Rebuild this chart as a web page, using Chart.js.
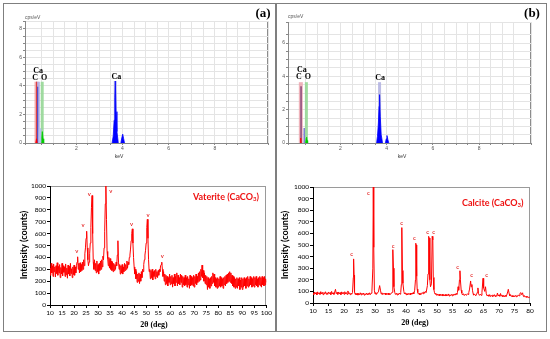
<!DOCTYPE html>
<html><head><meta charset="utf-8">
<script src="https://cdn.jsdelivr.net/npm/chart.js@4/dist/chart.umd.min.js"></script>
<style>
body{margin:0;background:#fff;}
#fig{position:relative;width:550px;height:339px;overflow:hidden;background:#fff;}
.wrap{position:absolute;}
.panel{position:absolute;font-family:"Liberation Serif",serif;font-weight:bold;font-size:13px;color:#000;transform:translate(-50%,-50%);}
</style></head><body>
<div id="fig">
  <div style="position:absolute;left:3px;top:3px;width:544px;height:329px;border:1.5px solid #7f7f7f;box-sizing:border-box"></div>
  <div style="position:absolute;left:275px;top:3px;width:2px;height:329px;background:#7f7f7f"></div>
  <div class="wrap" style="left:5px;top:5px"><canvas id="edsA" width="268" height="158"></canvas></div>
  <div class="wrap" style="left:279px;top:5px"><canvas id="edsB" width="266" height="158"></canvas></div>
  <div class="wrap" style="left:5px;top:172px"><canvas id="xrdA" width="268" height="158"></canvas></div>
  <div class="wrap" style="left:279px;top:172px"><canvas id="xrdB" width="266" height="158"></canvas></div>
  <div class="panel" style="left:263px;top:13px">(a)</div>
  <div class="panel" style="left:532px;top:13px">(b)</div>
</div>
<script>
// ---------------- DATA ----------------
// EDS (a): filled peaks [keV, cps/eV]
const edsA_CaKa = [[3.55,0],[3.6,0.5],[3.64,1.6],[3.67,3.2],[3.69,4.35],[3.72,2.2],[3.76,0.8],[3.82,0]];
const edsA_CaKb = [[3.93,0],[3.97,0.35],[4.01,0.62],[4.05,0.3],[4.09,0]];
const edsA_C    = [[0.24,0],[0.28,0.3],[0.31,0]];
const edsA_O    = [[0.48,0],[0.51,0.45],[0.53,0.8],[0.56,0.3],[0.59,0]];
const edsA_CaL  = [[0.38,0],[0.4,1.1],[0.44,1.0],[0.46,0]];
// EDS (a): element marker lines [keV, height]
const edsA_markC  = [0.28, 4.3];
const edsA_markCa = [0.34, 4.3];
const edsA_markO  = [0.525, 4.3];
const edsA_markCaK= [3.69, 4.35];
const edsA_lineC  = [0.28, 4.3];
const edsA_lineCa = [0.33, 3.95];
// EDS (a) peak labels [keV, cps/eV, text]
const edsA_labels = [[0.35,5.05,'Ca'],[0.22,4.56,'C'],[0.61,4.56,'O'],[3.74,4.63,'Ca']];

// EDS (b)
const edsB_CaKa = [[3.56,0],[3.6,0.4],[3.64,1.2],[3.67,2.2],[3.69,2.9],[3.72,1.6],[3.76,0.5],[3.82,0]];
const edsB_CaKb = [[3.94,0],[3.98,0.25],[4.01,0.45],[4.05,0.2],[4.09,0]];
const edsB_C    = [[0.25,0],[0.28,0.3],[0.3,0]];
const edsB_O    = [[0.49,0],[0.52,0.3],[0.535,0.35],[0.56,0.15],[0.58,0]];
const edsB_CaL  = [[0.42,0],[0.43,0.9],[0.44,0]];
const edsB_markC  = [0.285, 3.65];
const edsB_markO  = [0.525, 3.65];
const edsB_markCaK= [3.69, 3.65];
const edsB_lineC  = [0.295, 3.4];
const edsB_labels = [[0.33,4.38,'Ca'],[0.2,3.96,'C'],[0.59,3.96,'O'],[3.71,3.9,'Ca']];

// XRD (a) Vaterite [2θ, counts]
const vaterite = [
[10,310],[10.25,250],[10.5,350],[10.75,270],[11,330],[11.25,240],[11.5,345],[11.75,280],[12,320],[12.25,235],[12.5,330],[12.75,265],
[13,355],[13.25,250],[13.5,325],[13.75,270],[14,340],[14.25,230],[14.5,315],[14.75,260],[15,350],[15.25,245],[15.5,330],[15.75,275],
[16,320],[16.25,240],[16.5,345],[16.75,255],[17,310],[17.25,225],[17.5,335],[17.75,260],[18,325],[18.25,245],[18.5,350],[18.75,265],
[19,305],[19.25,230],[19.5,320],[19.75,255],[20,335],[20.25,250],[20.5,320],[20.75,270],[21,330],[21.25,360],[21.5,405],[21.75,300],
[22,350],[22.25,270],[22.5,355],[22.75,280],[23,340],[23.25,290],[23.5,360],[23.75,300],[24,380],[24.25,330],[24.5,430],[24.75,480],
[25,560],[25.25,620],[25.5,480],[25.75,380],[26,330],[26.25,360],[26.5,430],[26.75,520],[27,650],[27.25,820],[27.5,920],[27.75,600],
[28,360],[28.25,300],[28.5,380],[28.75,290],[29,350],[29.25,270],[29.5,370],[29.75,280],[30,340],[30.25,260],[30.5,350],[30.75,290],
[31,370],[31.25,300],[31.5,380],[31.75,320],[32,410],[32.25,380],[32.5,480],[32.75,620],[33,850],[33.25,1000],[33.5,720],[33.75,450],
[34,390],[34.25,330],[34.5,400],[34.75,310],[35,390],[35.25,300],[35.5,370],[35.75,290],[36,360],[36.25,280],[36.5,350],[36.75,290],
[37,340],[37.25,300],[37.5,360],[37.75,330],[38,420],[38.25,540],[38.5,360],[38.75,300],[39,340],[39.25,260],[39.5,330],[39.75,270],
[40,340],[40.25,260],[40.5,320],[40.75,280],[41,350],[41.25,290],[41.5,340],[41.75,300],[42,370],[42.25,310],[42.5,360],[42.75,340],
[43,400],[43.25,420],[43.5,470],[43.75,540],[44,600],[44.25,640],[44.5,520],[44.75,400],[45,320],[45.25,260],[45.5,300],[45.75,220],
[46,280],[46.25,190],[46.5,260],[46.75,200],[47,270],[47.25,180],[47.5,260],[47.75,200],[48,280],[48.25,230],[48.5,300],[48.75,280],
[49,340],[49.25,380],[49.5,420],[49.75,460],[50,520],[50.25,650],[50.5,720],[50.75,560],[51,380],[51.25,280],[51.5,300],[51.75,220],
[52,290],[52.25,230],[52.5,300],[52.75,210],[53,280],[53.25,240],[53.5,290],[53.75,220],[54,300],[54.25,240],[54.5,280],[54.75,230],
[55,290],[55.25,250],[55.5,300],[55.75,280],[56,330],[56.25,340],[56.5,360],[56.75,300],[57,240],[57.25,280],[57.5,200],[57.75,260],
[58,170],[58.25,250],[58.5,180],[58.75,240],[59,160],[59.25,230],[59.5,190],[59.75,260],[60,170],[60.25,240],[60.5,180],[60.75,250],
[61,150],[61.25,230],[61.5,180],[61.75,260],[62,160],[62.25,240],[62.5,190],[62.75,270],[63,160],[63.25,250],[63.5,180],[63.75,230],
[64,170],[64.25,260],[64.5,190],[64.75,250],[65,150],[65.25,240],[65.5,170],[65.75,230],[66,160],[66.25,250],[66.5,170],[66.75,230],
[67,150],[67.25,240],[67.5,170],[67.75,220],[68,140],[68.25,250],[68.5,160],[68.75,240],[69,170],[69.25,230],[69.5,160],[69.75,250],
[70,150],[70.25,240],[70.5,180],[70.75,260],[71,170],[71.25,240],[71.5,190],[71.75,270],[72,200],[72.25,280],[72.5,210],[72.75,300],
[73,240],[73.25,335],[73.5,230],[73.75,290],[74,200],[74.25,270],[74.5,180],[74.75,250],[75,170],[75.25,240],[75.5,130],[75.75,230],
[76,150],[76.25,220],[76.5,140],[76.75,230],[77,160],[77.25,240],[77.5,180],[77.75,270],[78,190],[78.25,260],[78.5,160],[78.75,230],
[79,150],[79.25,220],[79.5,140],[79.75,230],[80,150],[80.25,220],[80.5,160],[80.75,240],[81,150],[81.25,230],[81.5,160],[81.75,220],
[82,140],[82.25,230],[82.5,170],[82.75,240],[83,160],[83.25,250],[83.5,180],[83.75,260],[84,190],[84.25,270],[84.5,200],[84.75,280],
[85,190],[85.25,270],[85.5,180],[85.75,250],[86,160],[86.25,240],[86.5,150],[86.75,230],[87,140],[87.25,220],[87.5,150],[87.75,230],
[88,140],[88.25,220],[88.5,160],[88.75,230],[89,130],[89.25,210],[89.5,150],[89.75,230],[90,130],[90.25,220],[90.5,150],[90.75,230],
[91,160],[91.25,220],[91.5,140],[91.75,230],[92,160],[92.25,240],[92.5,150],[92.75,220],[93,160],[93.25,240],[93.5,170],[93.75,230],
[94,150],[94.25,220],[94.5,160],[94.75,240],[95,150],[95.25,230],[95.5,170],[95.75,240],[96,160],[96.25,220],[96.5,150],[96.75,230],
[97,170],[97.25,240],[97.5,160],[97.75,230],[98,150],[98.25,240],[98.5,170],[98.75,230],[99,160],[99.25,240],[99.5,170],[99.75,220],
[100,190]];
const vateriteMarks = [[21.1,454],[23.8,672],[26.3,933],[35.3,960],[43.9,681],[50.8,756],[56.7,414]];

// XRD (b) Calcite [2θ, counts]
const calcite = [
[10,85],[10.25,72],[10.5,95],[10.75,78],[11,90],[11.25,70],[11.5,96],[11.75,80],[12,88],[12.25,74],[12.5,98],[12.75,78],
[13,92],[13.25,72],[13.5,90],[13.75,80],[14,97],[14.25,76],[14.5,88],[14.75,74],[15,95],[15.25,80],[15.5,90],[15.75,72],
[16,100],[16.25,78],[16.5,88],[16.75,74],[17,94],[17.25,118],[17.5,80],[17.75,92],[18,74],[18.25,95],[18.5,78],[18.75,90],
[19,72],[19.25,96],[19.5,80],[19.75,92],[20,75],[20.25,97],[20.5,78],[20.75,90],[21,74],[21.25,104],[21.5,80],[21.75,88],
[22,72],[22.25,85],[22.5,76],[22.75,90],[23.0,220],[23.1,380],[23.25,240],[23.4,95],[23.6,74],[23.8,86],[24,70],[24.25,84],
[24.5,68],[24.75,82],[25,72],[25.25,88],[25.5,70],[25.75,84],[26,74],[26.25,86],[26.5,68],[26.75,80],[27,72],[27.25,86],
[27.5,70],[27.75,82],[28,74],[28.25,88],[28.5,72],[28.75,84],[29,96],[29.3,300],[29.45,1000],[29.6,480],[29.8,110],[30,78],
[30.25,90],[30.5,74],[30.75,86],[31.1,96],[31.5,150],[31.8,105],[32,78],[32.25,88],[32.5,72],[32.75,82],[33,76],[33.25,86],
[33.5,70],[33.75,82],[34,74],[34.25,86],[34.5,70],[34.75,80],[35,74],[35.25,86],[35.5,92],[35.7,210],[35.8,460],[35.95,300],
[36.1,140],[36.4,88],[36.6,74],[36.9,84],[37.1,70],[37.4,82],[37.6,72],[37.9,86],[38.1,76],[38.3,90],[38.5,160],[38.6,320],
[38.7,650],[38.85,280],[39,170],[39.3,100],[39.5,78],[39.8,88],[40,72],[40.3,84],[40.5,70],[40.8,82],[41,72],[41.3,84],
[41.5,70],[41.8,86],[42,76],[42.3,90],[42.5,78],[42.8,110],[43.05,200],[43.15,515],[43.3,500],[43.45,230],[43.6,120],[43.8,90],
[44,76],[44.25,84],[44.5,70],[44.75,82],[45,76],[45.25,90],[45.5,80],[45.75,96],[46,84],[46.25,100],[46.5,90],[46.9,150],
[47.1,250],[47.3,575],[47.5,560],[47.7,200],[47.9,140],[48.2,165],[48.45,575],[48.65,545],[48.8,220],[49,115],[49.2,88],
[49.4,76],[49.6,84],[49.9,66],[50.15,78],[50.4,64],[50.65,76],[50.9,62],[51.15,74],[51.4,64],[51.65,76],[51.9,60],[52.15,72],
[52.4,62],[52.65,74],[52.9,60],[53.15,72],[53.4,64],[53.65,78],[53.9,60],[54.15,72],[54.4,64],[54.65,74],[54.9,62],[55.15,76],
[55.4,66],[55.65,78],[55.9,68],[56.15,82],[56.4,74],[56.6,90],[56.8,140],[57.0,110],[57.25,200],[57.4,278],[57.55,200],
[57.8,110],[58,86],[58.2,70],[58.5,80],[58.8,64],[59.1,76],[59.5,66],[59.8,80],[60,74],[60.25,90],[60.5,120],[60.85,190],
[61.0,140],[61.25,160],[61.45,110],[61.65,80],[61.8,68],[62.1,78],[62.5,62],[62.8,76],[63,92],[63.2,130],[63.4,80],[63.7,66],
[64,76],[64.25,66],[64.5,92],[64.85,213],[65.05,130],[65.4,100],[65.65,140],[65.9,80],[66.2,60],[66.5,70],[66.75,58],[67,72],
[67.25,56],[67.5,66],[67.75,56],[68,70],[68.25,58],[68.5,72],[68.75,56],[69,66],[69.25,58],[69.5,86],[69.75,60],[70,70],
[70.25,58],[70.5,82],[70.75,60],[71,66],[71.25,54],[71.5,64],[71.75,54],[72,66],[72.25,56],[72.5,68],[72.8,95],[73,118],
[73.3,78],[73.5,62],[73.75,70],[74,56],[74.25,64],[74.5,52],[74.75,62],[75,54],[75.25,66],[75.5,54],[75.75,64],[76,58],
[76.25,70],[76.5,62],[76.75,80],[77,90],[77.3,72],[77.6,88],[77.8,64],[78,56],[78.25,62],[78.5,50],[78.75,58],[79,48],
[79.25,56],[79.5,46],[79.75,52],[80,45]];
const calciteMarks = [[22.5,420],[27.9,946],[35.9,491],[38.6,687],[42.7,558],[47,609],[48.9,609],[56.7,308],[61.2,241],[66,241]];

// ---------------- DRAWING ----------------
const pts = a => a.map(p => ({x:p[0], y:p[1]}));
const seg = m => [{x:m[0],y:0},{x:m[0],y:m[1]}];

function drawParts(ctx, parts, x, y, align, font, subFont){
  let w = 0;
  parts.forEach(p => { ctx.font = p.sub ? subFont : font; w += ctx.measureText(p.t).width; });
  let cx = align === 'center' ? x - w/2 : (align === 'right' ? x - w : x);
  ctx.textAlign = 'left';
  parts.forEach(p => {
    ctx.font = p.sub ? subFont : font;
    ctx.fillText(p.t, cx, p.sub ? y + 2.5 : y);
    cx += ctx.measureText(p.t).width;
  });
}

const annotate = {
  id: 'annotate',
  beforeDraw(chart, args, opts){
    if (!opts.frame) return;
    const a = chart.chartArea, ctx = chart.ctx;
    ctx.save(); ctx.strokeStyle = opts.frame; ctx.lineWidth = 1;
    ctx.strokeRect(Math.round(a.left)+0.5, Math.round(a.top)+0.5, Math.round(a.width)-1, Math.round(a.height));
    ctx.restore();
  },
  afterDraw(chart, args, opts){
    const ctx = chart.ctx;
    ctx.save();
    (opts.items || []).forEach(it => {
      let x, y;
      if (it.dx !== undefined) { x = chart.scales.x.getPixelForValue(it.dx); y = chart.scales.y.getPixelForValue(it.dy); }
      else { x = it.px; y = it.py; }
      ctx.fillStyle = it.color || '#000';
      ctx.textBaseline = 'middle';
      if (it.parts) { drawParts(ctx, it.parts, x, y, it.align || 'left', it.font, it.subFont); }
      else if (it.rot) {
        ctx.font = it.font; ctx.textAlign = 'center';
        ctx.translate(x, y); ctx.rotate(it.rot); ctx.fillText(it.text, 0, 0); ctx.setTransform(1,0,0,1,0,0);
      } else { ctx.font = it.font; ctx.textAlign = it.align || 'center'; ctx.fillText(it.text, x, y); }
    });
    ctx.restore();
  }
};
Chart.register(annotate);

const RED = '#ff0000';
// Chart.js draws the first dataset on top, so fills come first and marker halos last.
const fillDs = (d, c) => ({data: pts(d), borderColor: c, backgroundColor: c, borderWidth: 0.8, pointRadius: 0, fill: 'origin', tension: 0});
const lineDs = (m, c, w) => ({data: seg(m), borderColor: c, borderWidth: w, pointRadius: 0, fill: false});

function edsChart(id, datasets, xmin, xmax, ymax, yW, padTop, padRight, items){
  return new Chart(document.getElementById(id), {
    type: 'line',
    data: {datasets},
    options: {
      responsive: false, animation: false, devicePixelRatio: 1,
      layout: {padding: {top: padTop, right: padRight, left: 0, bottom: 0}},
      plugins: {legend: {display: false}, tooltip: {enabled: false}, annotate: {frame: '#8c8c8c', items}},
      scales: {
        x: {type: 'linear', min: xmin, max: xmax, afterFit(s){ s.height = 20; },
            ticks: {stepSize: 0.5, autoSkip: false, maxRotation: 0, padding: 1, color: '#555', font: {family: 'Liberation Sans', size: 5},
                    callback: v => (Math.abs(v - Math.round(v)) < 1e-6 && Math.round(v) % 2 === 0 && v >= 0) ? String(Math.round(v)) : ''},
            grid: {color: '#e4e4e4', tickLength: 2, tickColor: '#888'}, border: {color: '#888'}},
        y: {min: 0, max: ymax, afterFit(s){ s.width = yW; },
            ticks: {stepSize: 0.5, autoSkip: false, padding: 1, color: '#555', font: {family: 'Liberation Sans', size: 5},
                    callback: v => (Math.abs(v - Math.round(v)) < 1e-6 && Math.round(v) % 2 === 0) ? String(Math.round(v)) : ''},
            grid: {color: '#e4e4e4', tickLength: 2, tickColor: '#888'}, border: {color: '#888'}}
      }
    }
  });
}

const elFont = 'bold 8px "Liberation Serif"';
const tiny = '5px "Liberation Sans"';
const mkEdsLabels = (labels, cps, kev) => labels.map(l => ({dx: l[0], dy: l[1], text: l[2], font: elFont}))
  .concat([{px: cps[0], py: cps[1], text: 'cps/eV', font: tiny, color: '#555', align: 'left'},
           {px: kev[0], py: kev[1], text: 'keV', font: tiny, color: '#333', align: 'center'}]);

edsChart('edsA', [
  fillDs(edsA_CaKa, '#0000ff'),
  fillDs(edsA_CaKb, '#0000ff'),
  fillDs(edsA_O, '#00cc00'),
  fillDs(edsA_C, RED),
  fillDs(edsA_CaL, '#b8c0f0'),
  lineDs(edsA_lineCa, '#3c3cc8', 1),
  lineDs(edsA_lineC, '#e03c3c', 1),
  lineDs(edsA_markCaK, 'rgba(170,170,230,0.8)', 3),
  lineDs(edsA_markO, 'rgba(150,215,150,0.9)', 3),
  lineDs(edsA_markCa, 'rgba(170,170,230,0.8)', 4),
  lineDs(edsA_markC, 'rgba(240,150,150,0.8)', 4)
], -0.22, 10.3, 8.56, 20, 16, 5, mkEdsLabels(edsA_labels, [20, 13], [114, 152]));

edsChart('edsB', [
  fillDs(edsB_CaKa, '#0000ff'),
  fillDs(edsB_CaKb, '#0000ff'),
  fillDs(edsB_O, '#00cc00'),
  fillDs(edsB_C, RED),
  fillDs(edsB_CaL, '#8080d0'),
  lineDs(edsB_lineC, '#8a4a7a', 1.5),
  lineDs(edsB_markCaK, 'rgba(180,180,225,0.9)', 3),
  lineDs(edsB_markO, 'rgba(150,215,150,0.9)', 3),
  lineDs(edsB_markC, 'rgba(235,160,170,0.8)', 4)
], -0.27, 10.24, 7.26, 9, 17, 14, mkEdsLabels(edsB_labels, [9, 12], [123, 152]));

function xrdChart(id, data, marks, mChar, xmax, yW, xH, padTop, padRight, extra){
  const items = marks.map(m => ({dx: m[0], dy: m[1], text: mChar, font: '6px Lato', color: '#e00000'})).concat(extra);
  return new Chart(document.getElementById(id), {
    type: 'line',
    data: {datasets: [{data: pts(data), borderColor: RED, borderWidth: 1, pointRadius: 0, fill: false, tension: 0}]},
    options: {
      responsive: false, animation: false, devicePixelRatio: 1,
      layout: {padding: {top: padTop, right: padRight, left: 0, bottom: 0}},
      plugins: {legend: {display: false}, tooltip: {enabled: false}, annotate: {frame: '#9a9a9a', items}},
      scales: {
        x: {type: 'linear', min: 10, max: xmax, afterFit(s){ s.height = xH; },
            ticks: {stepSize: 5, autoSkip: false, maxRotation: 0, padding: 1, color: '#000', font: {family: 'Lato', size: 6.5}, callback: v => String(v)},
            grid: {drawOnChartArea: false, tickLength: 3, color: '#000'}, border: {color: '#000'}},
        y: {min: 0, max: 1000, afterFit(s){ s.width = yW; },
            ticks: {stepSize: 100, padding: 1, color: '#000', font: {family: 'Lato', size: 6.5}, callback: v => String(v)},
            grid: {drawOnChartArea: false, tickLength: 3, color: '#000'}, border: {color: '#000'}}
      }
    }
  });
}

const titleFont = 'bold 9px Lato';
const xTitleFont = 'bold 8px "Liberation Serif"';
const nameFont = 'bold 9px Lato';
const subFont = 'bold 6px Lato';

xrdChart('xrdA', vaterite, vateriteMarks, 'v', 100, 45, 25, 14, 6, [
  {px: 19, py: 73, text: 'Intensity (counts)', font: titleFont, rot: -Math.PI/2},
  {px: 149, py: 153, text: '2θ (deg)', font: xTitleFont},
  {px: 188, py: 25, parts: [{t: 'Vaterite (CaCO'}, {t: '3', sub: true}, {t: ')'}], font: nameFont, subFont, color: '#ee1111', align: 'left'}
]);
xrdChart('xrdB', calcite, calciteMarks, 'c', 80, 34, 27, 15, 15, [
  {px: 6, py: 73, text: 'Intensity (counts)', font: titleFont, rot: -Math.PI/2},
  {px: 136, py: 151, text: '2θ (deg)', font: xTitleFont},
  {px: 183, py: 31, parts: [{t: 'Calcite (CaCO'}, {t: '3', sub: true}, {t: ')'}], font: nameFont, subFont, color: '#ee1111', align: 'left'}
]);
</script>
</body></html>
